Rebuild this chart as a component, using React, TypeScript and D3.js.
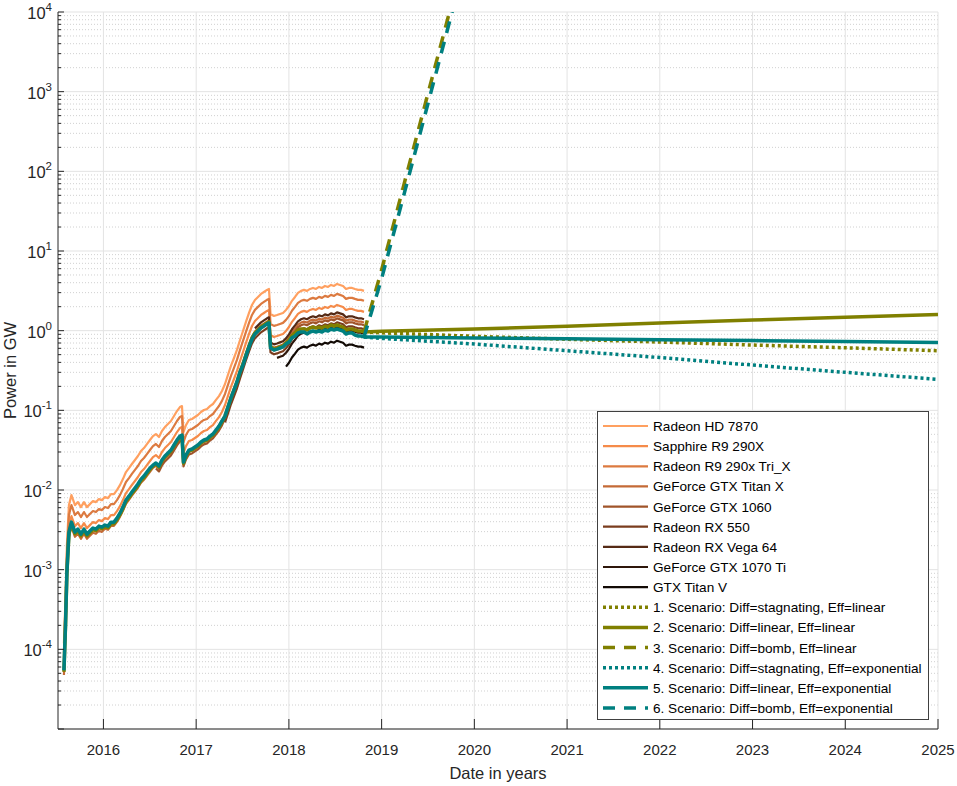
import * as d3 from "d3";
import React, { useEffect, useRef } from "react";

// sample dates of the historical curves (decimal years)
const dates = [
  2015.574, 2015.59, 2015.606, 2015.628, 2015.655, 2015.693, 2015.725, 2015.757, 2015.79, 2015.822,
  2015.854, 2015.887, 2015.919, 2015.951, 2015.984, 2016.016, 2016.049, 2016.081, 2016.113, 2016.146,
  2016.178, 2016.21, 2016.243, 2016.275, 2016.307, 2016.34, 2016.372, 2016.405, 2016.437, 2016.469,
  2016.502, 2016.534, 2016.566, 2016.599, 2016.631, 2016.663, 2016.696, 2016.728, 2016.761, 2016.793,
  2016.825, 2016.847, 2016.863, 2016.89, 2016.922, 2016.955, 2016.987, 2017.019, 2017.052, 2017.084,
  2017.117, 2017.149, 2017.181, 2017.214, 2017.246, 2017.278, 2017.311, 2017.343, 2017.375, 2017.408,
  2017.44, 2017.473, 2017.505, 2017.537, 2017.57, 2017.602, 2017.634, 2017.667, 2017.699, 2017.731,
  2017.764, 2017.785, 2017.802, 2017.839, 2017.872, 2017.904, 2017.936, 2017.969, 2018.001, 2018.033,
  2018.066, 2018.098, 2018.131, 2018.163, 2018.195, 2018.228, 2018.26, 2018.292, 2018.325, 2018.357,
  2018.389, 2018.422, 2018.454, 2018.487, 2018.519, 2018.551, 2018.584, 2018.616, 2018.648, 2018.681,
  2018.713, 2018.746, 2018.778, 2018.81,
];

// power of the least efficient card (Radeon HD 7870), GW
const hd7870 = [
  1.19e-4, 4.14e-4, 2.03e-3, 6.46e-3, 8.63e-3, 6.46e-3, 7.05e-3, 6.1e-3, 7.05e-3, 6.1e-3,
  6.65e-3, 7.26e-3, 7.05e-3, 7.69e-3, 7.46e-3, 8.15e-3, 7.91e-3, 8.88e-3, 8.88e-3, 9.95e-3,
  0.0115, 0.0137, 0.0168, 0.0188, 0.0212, 0.0238, 0.0267, 0.0308, 0.0336, 0.0377,
  0.0424, 0.0475, 0.0504, 0.0462, 0.055, 0.0617, 0.0673, 0.0734, 0.0849, 0.098,
  0.11, 0.113, 0.0533, 0.0653, 0.0755, 0.0778, 0.0824, 0.0873, 0.0953, 0.101,
  0.104, 0.113, 0.12, 0.135, 0.151, 0.175, 0.214, 0.278, 0.361, 0.454,
  0.573, 0.764, 0.991, 1.29, 1.67, 2.1, 2.43, 2.65, 2.89, 3.06,
  3.25, 3.34, 1.62, 1.53, 1.57, 1.62, 1.67, 1.82, 2.04, 2.37,
  2.65, 2.98, 3.16, 3.25, 3.16, 3.34, 3.44, 3.34, 3.54, 3.44,
  3.64, 3.54, 3.75, 3.64, 3.86, 3.75, 3.64, 3.34, 3.44, 3.44,
  3.34, 3.25, 3.25, 3.16,
];

// history of scenario 2 (Eff=linear), GW
const scen2History = [
  5.21e-5, 1.81e-4, 8.89e-4, 2.83e-3, 3.78e-3, 2.83e-3, 3.09e-3, 2.67e-3, 3.09e-3, 2.67e-3,
  2.91e-3, 3.18e-3, 3.09e-3, 3.37e-3, 3.27e-3, 3.47e-3, 3.37e-3, 3.78e-3, 3.78e-3, 4.24e-3,
  4.9e-3, 5.84e-3, 7.16e-3, 8.01e-3, 9.03e-3, 0.0101, 0.0114, 0.0131, 0.0143, 0.0161,
  0.0181, 0.02, 0.0212, 0.0194, 0.0231, 0.0259, 0.0283, 0.0308, 0.0357, 0.0412,
  0.0462, 0.0475, 0.0217, 0.0266, 0.0308, 0.0317, 0.0336, 0.0356, 0.0389, 0.0412,
  0.0424, 0.0461, 0.049, 0.0551, 0.0616, 0.0714, 0.0847, 0.11, 0.143, 0.18,
  0.227, 0.303, 0.382, 0.497, 0.643, 0.809, 0.936, 1.02, 1.11, 1.18,
  1.25, 1.29, 0.624, 0.589, 0.604, 0.624, 0.643, 0.701, 0.763, 0.86,
  0.935, 1.02, 1.05, 1.05, 1.02, 1.08, 1.11, 1.08, 1.11, 1.08,
  1.14, 1.11, 1.18, 1.14, 1.18, 1.14, 1.11, 1.02, 1.05, 1.05,
  1.02, 0.991, 0.991, 0.964,
];

// history of scenario 5 (Eff=exponential), GW
const scen5History = [
  5.45e-5, 1.9e-4, 9.3e-4, 2.96e-3, 3.95e-3, 2.96e-3, 3.23e-3, 2.79e-3, 3.23e-3, 2.79e-3,
  3.05e-3, 3.33e-3, 3.23e-3, 3.52e-3, 3.42e-3, 3.63e-3, 3.52e-3, 3.95e-3, 3.95e-3, 4.43e-3,
  5.12e-3, 6.1e-3, 7.48e-3, 8.37e-3, 9.43e-3, 0.0106, 0.0119, 0.0137, 0.015, 0.0168,
  0.0189, 0.0205, 0.0218, 0.02, 0.0238, 0.0267, 0.0291, 0.0317, 0.0367, 0.0423,
  0.0475, 0.0488, 0.0224, 0.0274, 0.0317, 0.0327, 0.0346, 0.0367, 0.04, 0.0424,
  0.0437, 0.0475, 0.0504, 0.0567, 0.0634, 0.0735, 0.0847, 0.11, 0.143, 0.18,
  0.227, 0.303, 0.371, 0.482, 0.625, 0.785, 0.909, 0.991, 1.08, 1.14,
  1.22, 1.25, 0.606, 0.572, 0.587, 0.606, 0.625, 0.681, 0.72, 0.813,
  0.856, 0.936, 0.964, 0.965, 0.91, 0.962, 0.991, 0.962, 0.991, 0.963,
  1.02, 0.991, 1.05, 1.02, 1.05, 1.02, 0.99, 0.908, 0.936, 0.936,
  0.882, 0.858, 0.858, 0.834,
];

// GPUs: power relative to the HD 7870 and release date (curve starts there)
const gpuNames = [
  "Radeon HD 7870",
  "Sapphire R9 290X",
  "Radeon R9 290x Tri_X",
  "GeForce GTX Titan X",
  "GeForce GTX 1060",
  "Radeon RX 550",
  "Radeon RX Vega 64",
  "GeForce GTX 1070 Ti",
  "GTX Titan V",
];
const gpuRelative = [1, 0.545, 0.75, 0.4, 0.37, 0.33, 0.44, 0.29, 0.194];
const gpuRelease = [0, 0, 0, 0, 2016.55, 2017.3, 2017.63, 2017.84, 2017.95];
const gpuColors = [
  "#ffa060", "#f58b4a", "#dc7a40", "#c46a36", "#a0542a",
  "#7a3d1e", "#552a15", "#2e170b", "#120a05",
];

// projections after the last measured day
const projDates = [2018.81, 2019, 2020, 2021, 2022, 2023, 2024, 2025];
const scen1Proj = [0.964, 0.94, 0.85, 0.78, 0.72, 0.66, 0.61, 0.56];
const scen2Proj = [0.964, 0.98, 1.05, 1.14, 1.25, 1.36, 1.47, 1.6];
const scen4Proj = [0.834, 0.8, 0.68, 0.56, 0.46, 0.37, 0.3, 0.245];
const scen5Proj = [0.834, 0.83, 0.81, 0.79, 0.77, 0.75, 0.73, 0.71];
const bombDates = [2018.81, 2019, 2019.25, 2019.5, 2019.75, 2019.8];
const scen3Proj = [0.964, 5.8, 75, 950, 12000, 18000];
const scen6Proj = [0.834, 4.5, 56, 710, 9000, 15000];

const scenarioNames = [
  "1. Scenario: Diff=stagnating, Eff=linear",
  "2. Scenario: Diff=linear, Eff=linear",
  "3. Scenario: Diff=bomb, Eff=linear",
  "4. Scenario: Diff=stagnating, Eff=exponential",
  "5. Scenario: Diff=linear, Eff=exponential",
  "6. Scenario: Diff=bomb, Eff=exponential",
];

const yearTicks = [2016, 2017, 2018, 2019, 2020, 2021, 2022, 2023, 2024, 2025];
const decadeTicks = [-4, -3, -2, -1, 0, 1, 2, 3, 4];

const OLIVE = "#808000";
const TEAL = "#008080";
const FONT = "'Liberation Sans', Arial, Helvetica, sans-serif";

const App: React.FC = () => {
  const svgRef = useRef<SVGSVGElement | null>(null);

  useEffect(() => {
    const svg = d3.select(svgRef.current);
    svg.selectAll("*").remove();
    const width = 957;
    const height = 786;
    const left = 58;
    const right = 938;
    const top = 12;
    const bottom = 729;

    const x = d3.scaleLinear().domain([2015.51, 2025]).range([left, right]);
    const y = d3.scaleLog().domain([1e-5, 1e4]).range([bottom, top]);

    svg.append("rect").attr("width", width).attr("height", height).attr("fill", "#fff");

    // grid
    const grid = svg.append("g");
    const minor: number[] = [];
    for (let k = -5; k < 4; k++) for (let m = 2; m < 10; m++) minor.push(m * Math.pow(10, k));
    grid
      .selectAll("line.minor")
      .data(minor)
      .join("line")
      .attr("x1", left)
      .attr("x2", right)
      .attr("y1", (d) => y(d))
      .attr("y2", (d) => y(d))
      .attr("stroke", "#d0d0d0")
      .attr("stroke-width", 1)
      .attr("stroke-dasharray", "1,2");
    grid
      .selectAll("line.hmajor")
      .data(d3.range(-5, 5))
      .join("line")
      .attr("x1", left)
      .attr("x2", right)
      .attr("y1", (d) => y(Math.pow(10, d)))
      .attr("y2", (d) => y(Math.pow(10, d)))
      .attr("stroke", "#e3e3e3");
    grid
      .append("g")
      .selectAll("line")
      .data(yearTicks)
      .join("line")
      .attr("x1", (d) => x(d))
      .attr("x2", (d) => x(d))
      .attr("y1", top)
      .attr("y2", bottom)
      .attr("stroke", "#e3e3e3");

    // curves
    svg
      .append("clipPath")
      .attr("id", "plotclip")
      .append("rect")
      .attr("x", left)
      .attr("y", top)
      .attr("width", right - left)
      .attr("height", bottom - top);
    const plot = svg.append("g").attr("clip-path", "url(#plotclip)");
    const line = d3
      .line<[number, number]>()
      .x((d) => x(d[0]))
      .y((d) => y(d[1]));

    gpuNames.forEach((_, g) => {
      const pts = dates
        .map((t, i) => [t, hd7870[i] * gpuRelative[g]] as [number, number])
        .filter((d) => d[0] >= gpuRelease[g]);
      plot
        .append("path")
        .attr("d", line(pts))
        .attr("fill", "none")
        .attr("stroke", gpuColors[g])
        .attr("stroke-width", 2.2)
        .attr("stroke-linejoin", "round");
    });

    const zip = (xs: number[], vs: number[]) => xs.map((t, i) => [t, vs[i]] as [number, number]);
    const hist2 = zip(dates, scen2History);
    const hist5 = zip(dates, scen5History);
    const scenarios = [
      { pts: zip(projDates, scen1Proj), color: OLIVE, dash: "3,3" },
      { pts: hist2.concat(zip(projDates, scen2Proj).slice(1)), color: OLIVE, dash: null },
      { pts: zip(bombDates, scen3Proj), color: OLIVE, dash: "12,9" },
      { pts: zip(projDates, scen4Proj), color: TEAL, dash: "3,3" },
      { pts: hist5.concat(zip(projDates, scen5Proj).slice(1)), color: TEAL, dash: null },
      { pts: zip(bombDates, scen6Proj), color: TEAL, dash: "12,9" },
    ];
    scenarios.forEach((s) => {
      plot
        .append("path")
        .attr("d", line(s.pts))
        .attr("fill", "none")
        .attr("stroke", s.color)
        .attr("stroke-width", 3.5)
        .attr("stroke-linejoin", "round")
        .attr("stroke-dasharray", s.dash);
    });

    // axes
    const axis = svg.append("g").attr("stroke", "#262626").attr("stroke-width", 1);
    axis.append("line").attr("x1", left).attr("x2", left).attr("y1", top).attr("y2", bottom);
    axis.append("line").attr("x1", left).attr("x2", right).attr("y1", bottom).attr("y2", bottom);
    axis
      .selectAll("line.ym")
      .data(minor)
      .join("line")
      .attr("x1", left)
      .attr("x2", left + 3)
      .attr("y1", (d) => y(d))
      .attr("y2", (d) => y(d));
    axis
      .selectAll("line.yM")
      .data(d3.range(-5, 5))
      .join("line")
      .attr("x1", left)
      .attr("x2", left + 6)
      .attr("y1", (d) => y(Math.pow(10, d)))
      .attr("y2", (d) => y(Math.pow(10, d)));
    axis
      .selectAll("line.xt")
      .data(yearTicks)
      .join("line")
      .attr("x1", (d) => x(d))
      .attr("x2", (d) => x(d))
      .attr("y1", bottom)
      .attr("y2", bottom - 10);

    const yl = svg
      .append("g")
      .selectAll("text")
      .data(decadeTicks)
      .join("text")
      .attr("x", 52)
      .attr("y", (d) => y(Math.pow(10, d)) + 7)
      .attr("text-anchor", "end")
      .attr("font-family", FONT)
      .attr("font-size", 16.5)
      .attr("fill", "#262626");
    yl.append("tspan").text("10");
    yl.append("tspan").attr("dy", -8).attr("font-size", 11.5).text((d) => String(d));

    svg
      .append("g")
      .selectAll("text")
      .data(yearTicks)
      .join("text")
      .attr("x", (d) => x(d))
      .attr("y", 755)
      .attr("text-anchor", "middle")
      .attr("font-family", FONT)
      .attr("font-size", 15)
      .attr("fill", "#262626")
      .text((d) => String(d));

    svg
      .append("text")
      .attr("x", (left + right) / 2)
      .attr("y", 779)
      .attr("text-anchor", "middle")
      .attr("font-family", FONT)
      .attr("font-size", 16.5)
      .attr("fill", "#262626")
      .text("Date in years");

    svg
      .append("text")
      .attr("transform", `translate(16,${(top + bottom) / 2}) rotate(-90)`)
      .attr("text-anchor", "middle")
      .attr("font-family", FONT)
      .attr("font-size", 16.5)
      .attr("fill", "#262626")
      .text("Power in GW");

    // legend
    const lg = svg.append("g");
    lg.append("rect")
      .attr("x", 597.5)
      .attr("y", 411.5)
      .attr("width", 331)
      .attr("height", 308)
      .attr("fill", "#fff")
      .attr("stroke", "#404040");
    const entries = [
      ...gpuNames.map((n, i) => ({ name: n, color: gpuColors[i], width: 2.2, dash: null as string | null })),
      ...scenarioNames.map((n, i) => ({
        name: n,
        color: scenarios[i].color,
        width: 3.5,
        dash: scenarios[i].dash,
      })),
    ];
    const row = d3.scaleLinear().domain([0, entries.length - 1]).range([426, 708]);
    const items = lg
      .selectAll("g")
      .data(entries)
      .join("g")
      .attr("transform", (_, i) => `translate(0,${row(i)})`);
    items
      .append("line")
      .attr("x1", 603)
      .attr("x2", 648)
      .attr("stroke", (d) => d.color)
      .attr("stroke-width", (d) => d.width)
      .attr("stroke-dasharray", (d) => d.dash);
    items
      .append("text")
      .attr("x", 653)
      .attr("y", 5)
      .attr("font-family", FONT)
      .attr("font-size", 13.6)
      .attr("fill", "#000")
      .text((d) => d.name);

    svg.attr("width", width).attr("height", height);
  }, []);

  return (
    <svg
      ref={svgRef}
      style={{ position: "absolute", left: 0, top: 0, display: "block" }}
    />
  );
};

export default App;
